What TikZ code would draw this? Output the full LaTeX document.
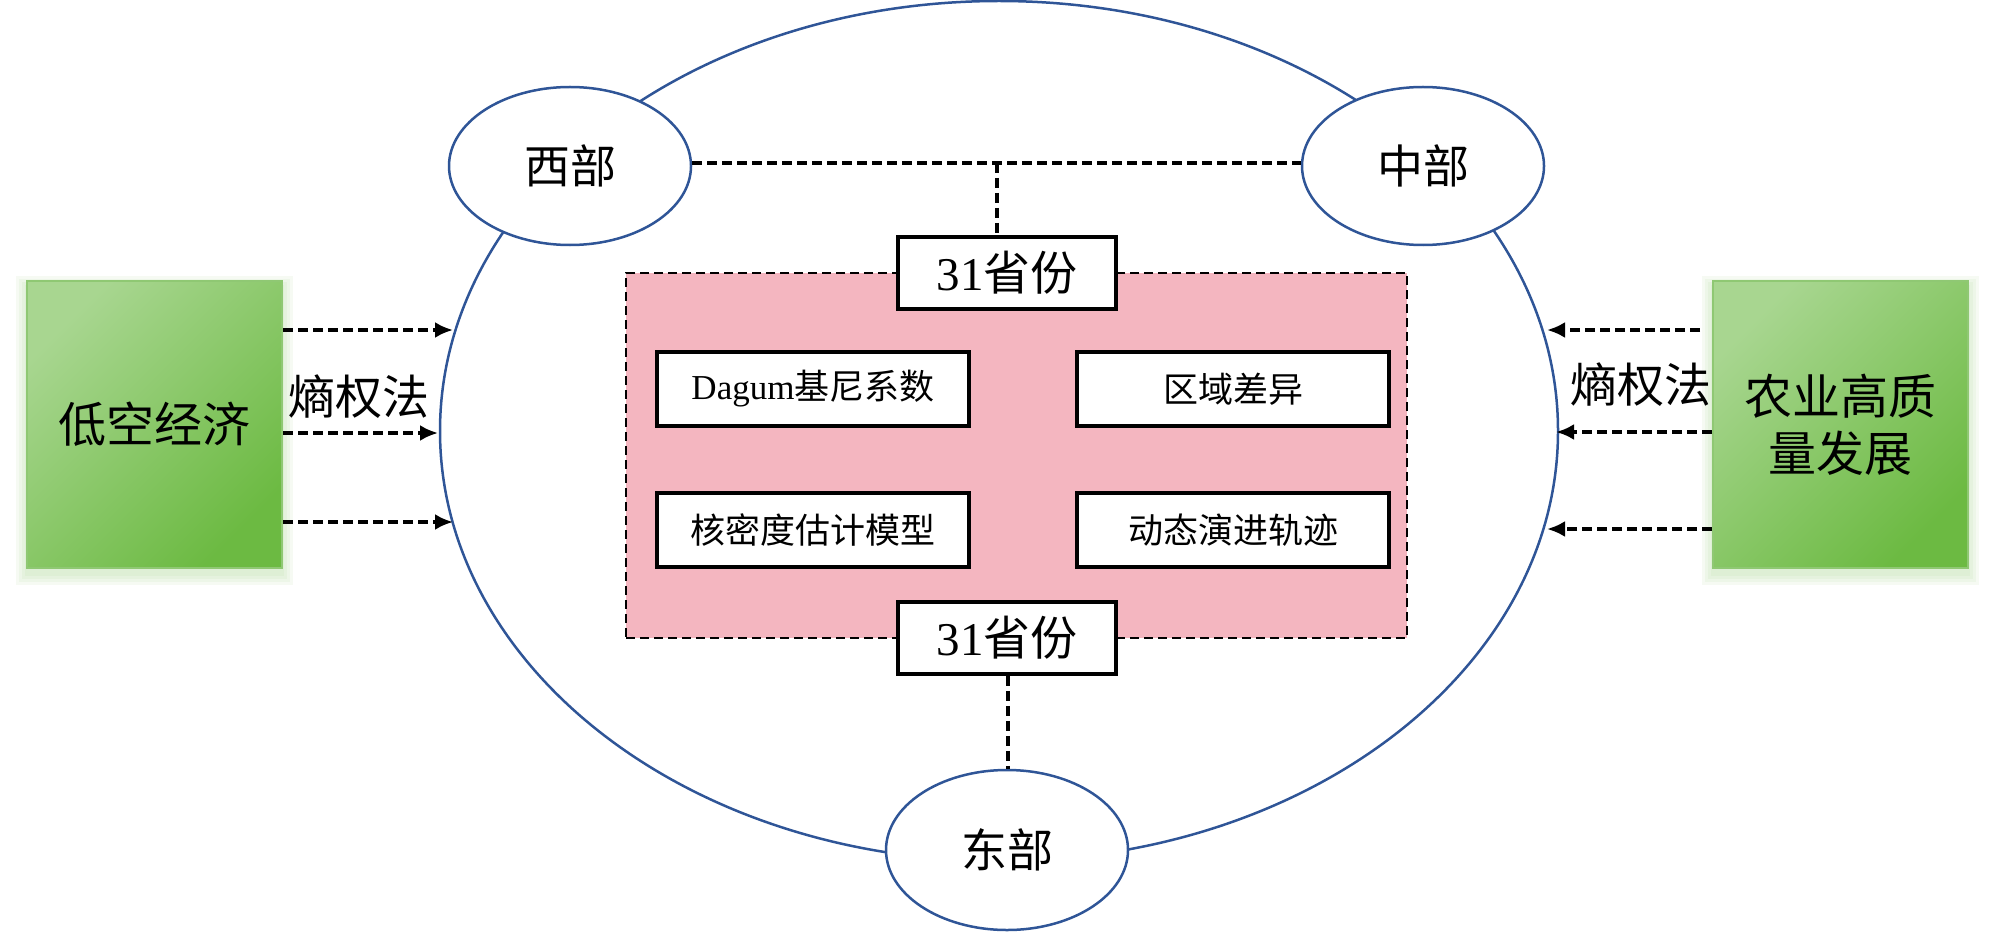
\documentclass[tikz,border=0pt]{standalone}
\usepackage{fontspec}
\setmainfont{Liberation Serif}
\newfontfamily\cjk{Noto Sans CJK SC}
\usetikzlibrary{arrows.meta,shapes.geometric}
\definecolor{eblue}{HTML}{2F5597}
\definecolor{pinkf}{HTML}{F4B6C0}
\definecolor{gA}{HTML}{A8D690}
\definecolor{gB}{HTML}{6CBA42}
\definecolor{gE}{HTML}{8FC873}
\definecolor{gS}{HTML}{7DBF5A}
\begin{document}
\begin{tikzpicture}[x=0.5pt,y=-0.5pt,
  region/.style={ellipse, draw=eblue, line width=1.25pt, fill=white, inner sep=0pt,
    minimum width=121pt, minimum height=79pt, font=\cjk\fontsize{23}{28}\selectfont},
  greenbox/.style={rectangle, draw=gE, line width=1pt, top color=gA, bottom color=gB,
    shading angle=45, minimum width=127.5pt, minimum height=143.5pt, inner sep=0pt,
    align=center, font=\cjk\fontsize{24}{28.5}\selectfont},
  provbox/.style={rectangle, draw=black, line width=1.8pt, fill=white, inner sep=0pt,
    minimum width=109pt, minimum height=36pt, font=\fontsize{23.5}{28}\selectfont},
  methbox/.style={rectangle, draw=black, line width=1.8pt, fill=white, inner sep=0pt,
    minimum width=156pt, minimum height=37pt, font=\cjk\fontsize{17.5}{21}\selectfont},
  dashline/.style={dash pattern=on 5pt off 2.5pt, line width=1.7pt},
  arr/.style={dashline, -{Latex[length=9pt,width=8pt]}},
  lbl/.style={inner sep=0pt, font=\cjk\fontsize{23.5}{28}\selectfont},
  glow/.style={fill=gS, opacity=0.07, draw=none}
]
\useasboundingbox (0,0) rectangle (2000,936);

% big ellipse
\node[ellipse, draw=eblue, line width=1.25pt, inner sep=0pt,
  minimum width=559pt, minimum height=430pt] (E) at (999,431) {};

% pink area
\node[rectangle, draw=black, fill=pinkf, dash pattern=on 4.5pt off 2.5pt, line width=1.3pt,
  minimum width=390.5pt, minimum height=182.5pt, inner sep=0pt] (P) at (1016.5,455.5) {};

% soft shadows of green boxes
\foreach \s in {2,5,8,11}{
  \fill[glow] (27-\s,281+6-\s) rectangle (282+\s,568+6+\s);
  \fill[glow] (1713-\s,281+6-\s) rectangle (1968+\s,568+6+\s);
}

% green boxes
\node[greenbox] (GL) at (154.5,424.5) {低空经济};
\node[greenbox] (GR) at (1840.5,424.5) {农业高质\\量发展};

% labels
\node[lbl] (L1) at (359,397) {熵权法};
\node[lbl] (L2) at (1641,385) {熵权法};

% arrow tips on ellipse
\coordinate (la) at (453,330);
\coordinate (lb) at (438,433);
\coordinate (lc) at (453,522);
\coordinate (ra) at (1547,330);
\coordinate (rb) at (1556,432);
\coordinate (rc) at (1547,529);
\coordinate (rs) at (1700,330);

\draw[arr] (GL.east |- la) -- (la);
\draw[arr] (GL.east |- lb) -- (lb);
\draw[arr] (GL.east |- lc) -- (lc);
\draw[arr] (rs) -- (ra);
\draw[arr] (GR.west |- rb) -- (rb);
\draw[arr] (GR.west |- rc) -- (rc);

% regions
\node[region] (W) at (570,166) {西部};
\node[region] (M) at (1423,166) {中部};
\node[region, minimum height=80pt] (D) at (1007,850) {东部};

% province boxes
\node[provbox] (T) at (1007,273) {31{\cjk 省份}};
\node[provbox] (B) at (1007,638) {31{\cjk 省份}};

% dashed links
\coordinate (J) at (997,163);
\draw[dashline] (W.east |- J) -- (M.west |- J);
\draw[dashline] (J) -- (J |- T.north);
\draw[dashline] (B.south -| 1008,0) -- (D.north -| 1008,0);

% method boxes
\node[methbox] (m1) at (813,389) {{\rmfamily Dagum}基尼系数};
\node[methbox] (m2) at (1233,389) {区域差异};
\node[methbox] (m3) at (813,530) {核密度估计模型};
\node[methbox] (m4) at (1233,530) {动态演进轨迹};
\end{tikzpicture}
\end{document}
